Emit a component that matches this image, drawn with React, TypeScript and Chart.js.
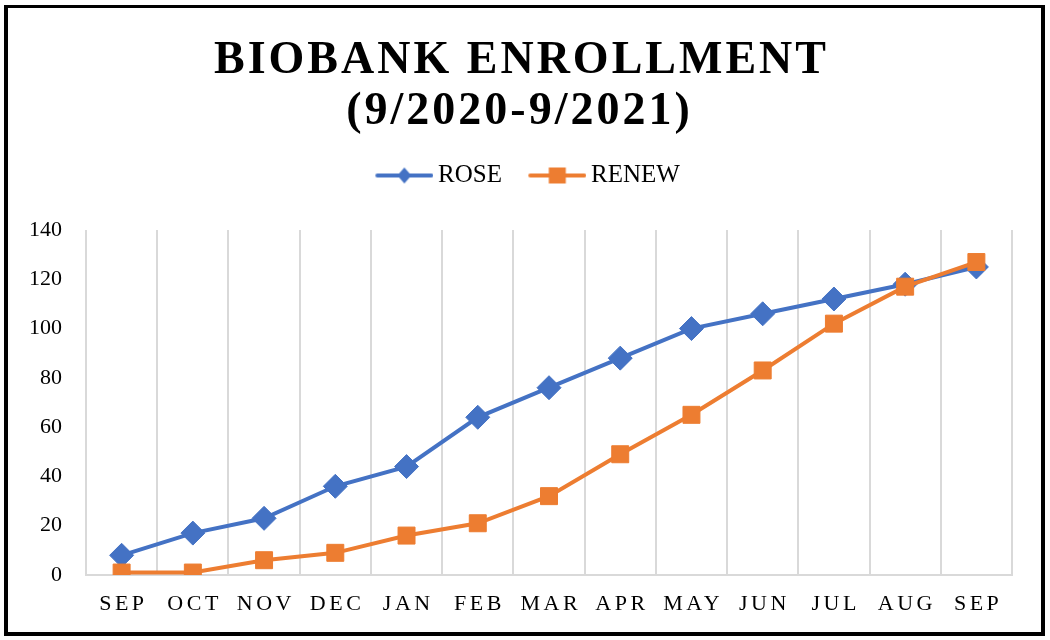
import React, { useEffect, useRef } from 'react';
import { Chart, registerables } from 'chart.js';

Chart.register(...registerables);

const months = ['SEP', 'OCT', 'NOV', 'DEC', 'JAN', 'FEB', 'MAR', 'APR', 'MAY', 'JUN', 'JUL', 'AUG', 'SEP'];
const roseValues = [8, 17, 23, 36, 44, 64, 76, 88, 100, 106, 112, 118, 125];
const renewValues = [1, 1, 6, 9, 16, 21, 32, 49, 65, 83, 102, 117, 127];
const yMin = 0;
const yMax = 140;
const yStep = 20;
const titleLines = ['BIOBANK ENROLLMENT', '(9/2020-9/2021)'];
const seriesNames = ['ROSE', 'RENEW'];

const BLUE = '#4472C4';
const ORANGE = '#ED7D31';
const GRID = '#D9D9D9';
const SERIF = '"Liberation Serif", "Times New Roman", serif';

// legend icon: line with marker, drawn in the right part of a wider transparent image
function legendIcon(color: string, style: 'diamond' | 'square') {
  const off = 26;
  const c = document.createElement('canvas');
  c.width = 84;
  c.height = 22;
  const ctx = c.getContext('2d')!;
  ctx.strokeStyle = color;
  ctx.lineWidth = 4;
  ctx.lineCap = 'round';
  ctx.beginPath();
  ctx.moveTo(off + 2, 11);
  ctx.lineTo(off + 56, 11);
  ctx.stroke();
  ctx.fillStyle = color;
  const cx = off + 29;
  if (style === 'diamond') {
    ctx.beginPath();
    ctx.moveTo(cx - 7, 11);
    ctx.lineTo(cx, 11 - 8);
    ctx.lineTo(cx + 7, 11);
    ctx.lineTo(cx, 11 + 8);
    ctx.closePath();
    ctx.fill();
  } else {
    ctx.fillRect(cx - 8.5, 11 - 8, 17, 16);
  }
  return c;
}

const decorPlugin = {
  id: 'decor',
  afterDraw(chart: any) {
    const ctx = chart.ctx as CanvasRenderingContext2D;
    ctx.save();
    // frame
    ctx.fillStyle = '#000';
    ctx.fillRect(4, 5, 1041, 3);
    ctx.fillRect(4, 5, 4, 631);
    ctx.fillRect(1041, 5, 4, 631);
    ctx.fillRect(4, 632, 1041, 4);
    // title
    ctx.font = `bold 46px ${SERIF}`;
    (ctx as any).letterSpacing = '3px';
    ctx.textAlign = 'center';
    ctx.textBaseline = 'alphabetic';
    ctx.fillText(titleLines[0], 521.5, 73);
    ctx.fillText(titleLines[1], 519.5, 124);
    // x labels with letter spacing
    const xs = chart.scales.x;
    ctx.font = `22px ${SERIF}`;
    (ctx as any).letterSpacing = '3.5px';
    ctx.textBaseline = 'middle';
    xs.ticks.forEach((_t: any, i: number) => {
      ctx.fillText(String(xs.getLabelForValue(i)), xs.getPixelForTick(i) + 1.75, chart.chartArea.bottom + 29);
    });
    ctx.restore();
  },
};

export default function App() {
  const ref = useRef<HTMLCanvasElement>(null);
  useEffect(() => {
    if (!ref.current) return;
    const icons = [legendIcon(BLUE, 'diamond'), legendIcon(ORANGE, 'square')];
    const chart = new Chart(ref.current, {
      type: 'line',
      data: {
        labels: months,
        datasets: [
          {
            label: seriesNames[0],
            data: roseValues,
            borderColor: BLUE,
            backgroundColor: BLUE,
            borderWidth: 4,
            pointStyle: 'rectRot',
            pointRadius: 12,
            pointBackgroundColor: BLUE,
            pointBorderColor: BLUE,
            pointBorderWidth: 1,
            tension: 0,
            order: 1,
          },
          {
            label: seriesNames[1],
            data: renewValues,
            borderColor: ORANGE,
            backgroundColor: ORANGE,
            borderWidth: 4,
            pointStyle: 'rect',
            pointRadius: 12,
            pointBackgroundColor: ORANGE,
            pointBorderColor: ORANGE,
            pointBorderWidth: 1,
            tension: 0,
            order: 0,
          },
        ],
      },
      options: {
        responsive: false,
        animation: false,
        devicePixelRatio: 1,
        layout: { padding: { left: 25, right: 38, top: 155, bottom: 10 } },
        plugins: {
          title: { display: false },
          subtitle: {
            display: true,
            text: '',
            padding: 0,
            weight: 500,
            font: { size: 32, lineHeight: 1 },
          } as any,
          tooltip: { enabled: false },
          legend: {
            display: true,
            position: 'top',
            labels: {
              usePointStyle: true,
              pointStyleWidth: 68.5,
              padding: 8,
              color: '#000',
              font: { family: SERIF, size: 25 },
              generateLabels: () =>
                seriesNames.map((name, i) => ({
                  text: name,
                  fillStyle: i === 0 ? BLUE : ORANGE,
                  strokeStyle: i === 0 ? BLUE : ORANGE,
                  lineWidth: 0,
                  pointStyle: icons[i] as any,
                  hidden: false,
                  datasetIndex: i,
                  fontColor: '#000',
                })),
            },
          },
        },
        scales: {
          x: {
            offset: true,
            grid: { display: true, offset: true, color: GRID, lineWidth: 2, drawTicks: false },
            border: { display: true, color: GRID, width: 2 },
            ticks: {
              color: 'rgba(0,0,0,0)',
              font: { family: SERIF, size: 22 },
              autoSkip: false,
              maxRotation: 0,
              padding: 14,
            },
            afterFit: (s: any) => {
              s.height = 55;
            },
          },
          y: {
            min: yMin,
            max: yMax,
            grid: { display: false, drawTicks: false },
            border: { display: false },
            ticks: {
              stepSize: yStep,
              color: '#000',
              padding: 24,
              font: { family: SERIF, size: 22 },
            },
            afterFit: (s: any) => {
              s.width = 61;
            },
          },
        },
      },
      plugins: [decorPlugin],
    });
    return () => chart.destroy();
  }, []);
  return (
    <div style={{ position: 'fixed', left: 0, top: 0, width: 1050, height: 640, background: '#fff' }}>
      <canvas ref={ref} width={1050} height={640} style={{ display: 'block' }} />
    </div>
  );
}
